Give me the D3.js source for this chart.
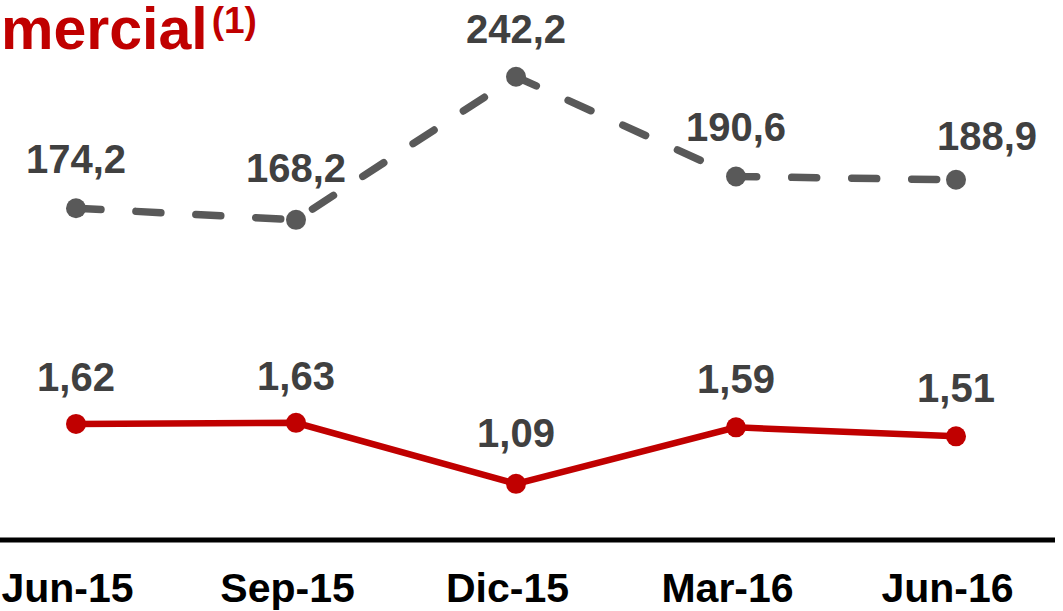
<!DOCTYPE html>
<html>
<head>
<meta charset="utf-8">
<script src="https://cdnjs.cloudflare.com/ajax/libs/d3/7.8.5/d3.min.js"></script>
<style>
  body { margin: 0; background: #fff; }
  svg { display: block; font-family: "Liberation Sans", Arial, sans-serif; }
</style>
</head>
<body>
<div id="chart"></div>
<script>
// data
const periods = ["Jun-15", "Sep-15", "Dic-15", "Mar-16", "Jun-16"]
const greyValues = [174.2, 168.2, 242.2, 190.6, 188.9]
const redValues = [1.62, 1.63, 1.09, 1.59, 1.51]

// label nudges (layout only)
const greyNudge = [[0, -35], [0, -38], [0, -34], [0, -36], [31, -30]]
const redNudge = [[0, -33], [0, -33], [0, -37], [0, -34], [0, -34]]

const width = 1063
const height = 611

function comma(v, digits) {
    return v.toFixed(digits).replace(".", ",")
}

const svg = d3.select("#chart").append("svg")
    .attr("width", width)
    .attr("height", height)

const x = d3.scalePoint()
    .domain(periods)
    .range([76, 956])

const yGrey = d3.scaleLinear()
    .domain([0, 300])
    .range([545, -35])

const yRed = d3.scaleLinear()
    .domain([0, 2])
    .range([607, 381])

// title fragment
const title = svg.append("text")
    .attr("x", 1)
    .attr("y", 49)
    .attr("fill", "#c00000")
    .attr("font-weight", "bold")
    .attr("font-size", 59)
title.append("tspan").text("mercial")
title.append("tspan")
    .attr("font-size", 37)
    .attr("dx", 4)
    .attr("dy", -16)
    .text("(1)")

// axis
const axis = svg.append("g")
    .attr("transform", "translate(0,540)")
    .call(d3.axisBottom(x).tickSize(0).tickPadding(0))
axis.select(".domain").remove()
axis.selectAll("text")
    .attr("x", -9)
    .attr("y", 62)
    .attr("dy", 0)
    .attr("font-family", "Liberation Sans, Arial, sans-serif")
    .attr("font-size", 41)
    .attr("font-weight", "bold")
    .attr("fill", "#000")
svg.append("line")
    .attr("x1", 0)
    .attr("x2", 1055)
    .attr("y1", 540)
    .attr("y2", 540)
    .attr("stroke", "#000")
    .attr("stroke-width", 5)

// grey dashed series
const greyLine = d3.line()
    .x((d, i) => x(periods[i]))
    .y(d => yGrey(d))

svg.append("path")
    .datum(greyValues)
    .attr("d", greyLine)
    .attr("fill", "none")
    .attr("stroke", "#595959")
    .attr("stroke-width", 7.5)
    .attr("stroke-linecap", "round")
    .attr("stroke-dasharray", "25,35")

svg.append("g")
    .selectAll("circle")
    .data(greyValues)
    .enter()
    .append("circle")
    .attr("cx", (d, i) => x(periods[i]))
    .attr("cy", d => yGrey(d))
    .attr("r", 10)
    .attr("fill", "#595959")

svg.append("g")
    .selectAll("text")
    .data(greyValues)
    .enter()
    .append("text")
    .attr("x", (d, i) => x(periods[i]) + greyNudge[i][0])
    .attr("y", (d, i) => yGrey(d) + greyNudge[i][1])
    .attr("text-anchor", "middle")
    .attr("font-size", 40)
    .attr("font-weight", "bold")
    .attr("fill", "#404040")
    .text(d => comma(d, 1))

// red series
const redLine = d3.line()
    .x((d, i) => x(periods[i]))
    .y(d => yRed(d))

svg.append("path")
    .datum(redValues)
    .attr("d", redLine)
    .attr("fill", "none")
    .attr("stroke", "#c00000")
    .attr("stroke-width", 6.5)

svg.append("g")
    .selectAll("circle")
    .data(redValues)
    .enter()
    .append("circle")
    .attr("cx", (d, i) => x(periods[i]))
    .attr("cy", d => yRed(d))
    .attr("r", 10)
    .attr("fill", "#c00000")

svg.append("g")
    .selectAll("text")
    .data(redValues)
    .enter()
    .append("text")
    .attr("x", (d, i) => x(periods[i]) + redNudge[i][0])
    .attr("y", (d, i) => yRed(d) + redNudge[i][1])
    .attr("text-anchor", "middle")
    .attr("font-size", 40)
    .attr("font-weight", "bold")
    .attr("fill", "#404040")
    .text(d => comma(d, 2))
</script>
</body>
</html>
